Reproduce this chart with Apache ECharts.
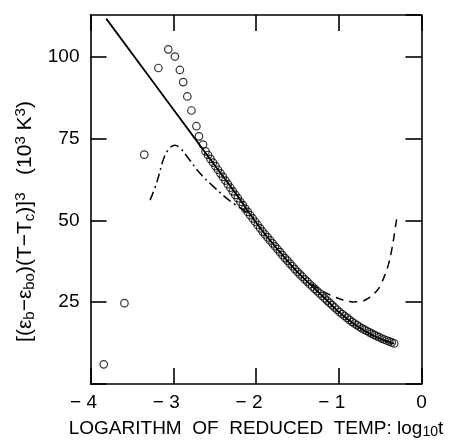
<!DOCTYPE html>
<html>
<head>
<meta charset="utf-8">
<script src="https://cdn.jsdelivr.net/npm/echarts@6/dist/echarts.min.js"></script>
<style>html,body{margin:0;padding:0;background:#fff}#c{width:450px;height:444px}</style>
</head>
<body>
<div id="c"></div>
<script>
// X ticks / Y ticks
var xTicks = [-4, -3, -2, -1, 0];
var yTicks = [0, 25, 50, 75, 100];

// Measured points (open circles): log10 t
var circleX = [-3.84, -3.59, -3.35, -3.18, -3.06, -2.98, -2.92, -2.88, -2.83, -2.78, -2.72, -2.69, -2.64, -2.61,
  -2.58, -2.55, -2.52, -2.49, -2.46, -2.43, -2.40, -2.37, -2.34, -2.31, -2.28, -2.25, -2.22, -2.19, -2.16, -2.13,
  -2.10, -2.07, -2.04, -2.01, -1.98, -1.95, -1.92, -1.89, -1.86, -1.83, -1.80, -1.77, -1.74, -1.71, -1.68, -1.65,
  -1.62, -1.59, -1.56, -1.53, -1.50, -1.47, -1.44, -1.41, -1.38, -1.35, -1.32, -1.29, -1.26, -1.23, -1.20, -1.17,
  -1.14, -1.11, -1.08, -1.05, -1.02, -0.99, -0.96, -0.93, -0.90, -0.87, -0.84, -0.81, -0.78, -0.75, -0.72, -0.69,
  -0.66, -0.63, -0.60, -0.57, -0.54, -0.51, -0.48, -0.45, -0.42, -0.39, -0.36, -0.33];
// Measured points (open circles): value
var circleY = [6.0, 24.7, 70.1, 96.6, 102.3, 100.1, 96.0, 92.3, 87.9, 83.6, 78.8, 75.7, 73.2, 71.1,
  70.0, 68.8, 67.7, 66.6, 65.5, 64.4, 63.3, 62.2, 61.1, 60.0, 58.9, 57.8, 56.8, 55.7, 54.7, 53.6,
  52.6, 51.6, 50.6, 49.6, 48.6, 47.6, 46.6, 45.7, 44.8, 43.9, 43.0, 42.1, 41.2, 40.3, 39.4, 38.5,
  37.7, 36.8, 36.0, 35.1, 34.3, 33.5, 32.8, 32.0, 31.3, 30.5, 29.8, 29.1, 28.4, 27.7, 26.9, 26.2,
  25.5, 24.8, 24.1, 23.4, 22.7, 22.0, 21.4, 20.8, 20.2, 19.6, 19.0, 18.5, 18.0, 17.5, 17.0, 16.6,
  16.2, 15.8, 15.4, 15.0, 14.6, 14.3, 13.9, 13.6, 13.3, 13.0, 12.7, 12.4];

// Solid theoretical curve
var solidX = [-3.81, -3.0, -2.6, -2.2, -2.07, -1.91, -1.71, -1.51, -1.31, -1.16, -0.99, -0.79, -0.59, -0.45, -0.33];
var solidY = [111.7, 84.0, 70.3, 56.6, 51.8, 46.4, 40.3, 34.5, 29.6, 26.0, 21.8, 17.9, 14.9, 13.4, 12.3];

// Dash-dot curve
var dashDotX = [-3.28, -3.20, -3.12, -3.06, -2.98, -2.92, -2.82, -2.68, -2.52, -2.36, -2.24, -2.10];
var dashDotY = [56.2, 61.5, 68.6, 71.6, 73.0, 72.2, 69.1, 64.5, 60.5, 56.9, 54.6, 52.3];

// Dashed curve
var dashedX = [-1.33, -1.25, -1.15, -1.05, -0.95, -0.83, -0.72, -0.63, -0.55, -0.50, -0.44, -0.40, -0.36, -0.33, -0.30];
var dashedY = [30.6, 29.2, 27.8, 26.6, 25.7, 25.1, 25.3, 26.4, 28.2, 30.0, 33.5, 36.5, 41.0, 45.5, 50.5];

function zip(a, b) { return a.map(function (v, i) { return [v, b[i]]; }); }

var FONT = 'Liberation Sans';
var chart = echarts.init(document.getElementById('c'), null, { renderer: 'canvas' });

var axisLineStyle = { color: '#000', width: 1.6 };
var tickStyle = { show: true, inside: true, length: 16, lineStyle: { color: '#000', width: 1.6 } };

function xFmt(v) {
  if (xTicks.indexOf(v) < 0) return '';
  return v < 0 ? '{neg|\u2212 ' + Math.abs(v) + '}' : String(v);
}
function yFmt(v) {
  if (yTicks.indexOf(v) < 0 || v === 0) return '';
  return String(v);
}

chart.setOption({
  animation: false,
  backgroundColor: '#fff',
  grid: { left: 90.5, right: 28.5, top: 15, bottom: 59, show: false },
  xAxis: [{
    type: 'value', min: -4, max: 0, interval: 1, position: 'bottom',
    axisLine: { show: true, onZero: false, lineStyle: axisLineStyle },
    axisTick: tickStyle,
    splitLine: { show: false },
    axisLabel: {
      color: '#000', fontFamily: FONT, fontSize: 19, margin: 9, formatter: xFmt,
      rich: { neg: { fontFamily: FONT, fontSize: 19, color: '#000', padding: [0, 14, 0, 0] } }
    },
    name: 'LOGARITHM  OF  REDUCED  TEMP: log{sub|10}t',
    nameLocation: 'middle', nameGap: 34,
    nameTextStyle: {
      color: '#000', fontFamily: FONT, fontSize: 19,
      rich: { sub: { fontSize: 14, fontFamily: FONT, color: '#000', verticalAlign: 'bottom', padding: [7, 0, 0, 0] } }
    }
  }, {
    type: 'value', min: -4, max: 0, interval: 1, position: 'top',
    axisLine: { show: true, onZero: false, lineStyle: axisLineStyle },
    axisTick: tickStyle, axisLabel: { show: false }, splitLine: { show: false }
  }],
  yAxis: [{
    type: 'value', min: 0, max: 112.8, interval: 25, position: 'left',
    axisLine: { show: true, onZero: false, lineStyle: axisLineStyle },
    axisTick: tickStyle,
    splitLine: { show: false },
    axisLabel: { color: '#000', fontFamily: FONT, fontSize: 19, margin: 11, formatter: yFmt, showMaxLabel: false },
    name: '[(\u03b5{sub|b}\u2212\u03b5{sub|bo})(T\u2212T{sub|c})]{sup|3}   (10{sup|3} K{sup|3})',
    nameLocation: 'middle', nameGap: 48, nameRotate: 90,
    nameTextStyle: {
      color: '#000', fontFamily: FONT, fontSize: 21, padding: [0, 0, 0, -44],
      rich: {
        sub: { fontSize: 15, fontFamily: FONT, color: '#000', verticalAlign: 'bottom', padding: [9, 0, 0, 0] },
        sup: { fontSize: 15, fontFamily: FONT, color: '#000', verticalAlign: 'top', padding: [0, 0, 9, 0] }
      }
    }
  }, {
    type: 'value', min: 0, max: 112.8, interval: 25, position: 'right',
    axisLine: { show: true, onZero: false, lineStyle: axisLineStyle },
    axisTick: tickStyle, axisLabel: { show: false }, splitLine: { show: false }
  }],
  series: [{
    type: 'line', data: zip(solidX, solidY), showSymbol: false, smooth: 0.3,
    lineStyle: { color: '#000', width: 1.8 }, z: 2
  }, {
    type: 'line', data: zip(dashDotX, dashDotY), showSymbol: false, smooth: 0.4,
    lineStyle: { color: '#000', width: 1.5, type: [9, 4, 2, 4] }, z: 2
  }, {
    type: 'line', data: zip(dashedX, dashedY), showSymbol: false, smooth: 0.4,
    lineStyle: { color: '#000', width: 1.5, type: [8, 6] }, z: 2
  }, {
    type: 'scatter', data: zip(circleX, circleY), symbol: 'circle', symbolSize: 7.5,
    itemStyle: { color: 'rgba(0,0,0,0)', borderColor: '#000', borderWidth: 1.2 }, z: 3
  }]
});
</script>
</body>
</html>
